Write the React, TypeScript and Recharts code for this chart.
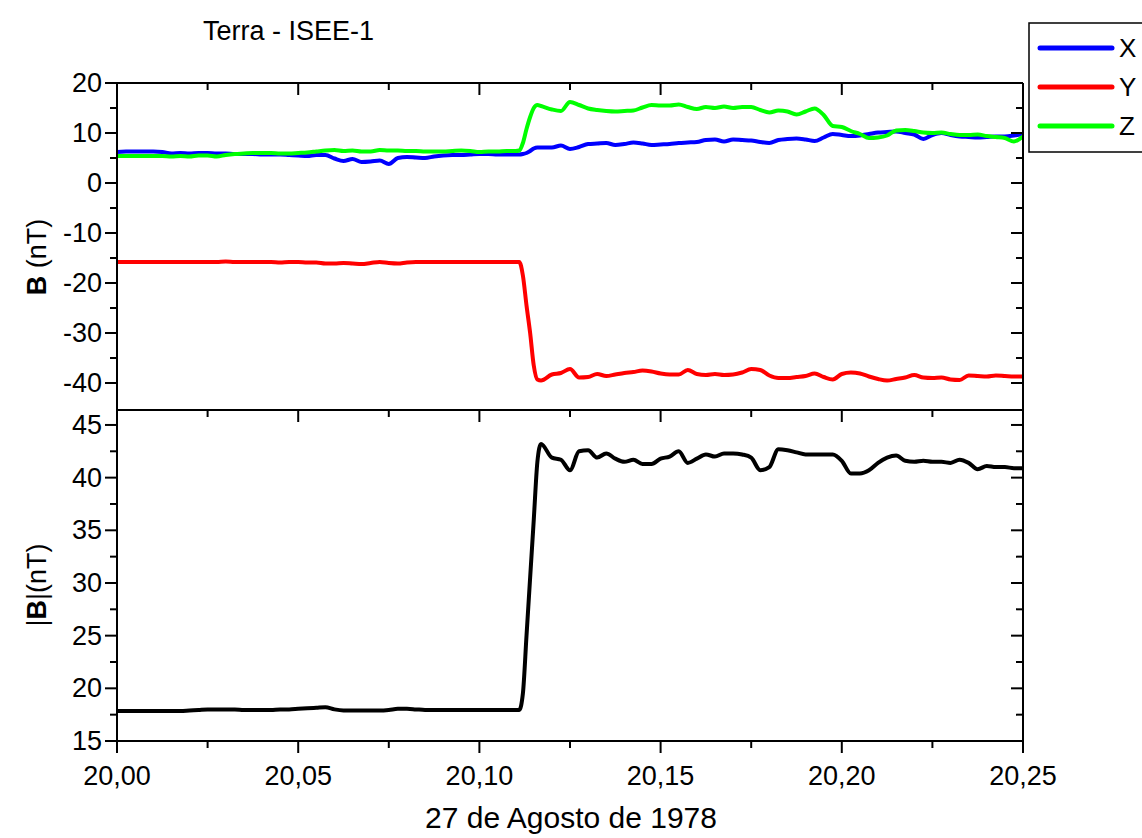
import { LineChart, Line, XAxis, YAxis } from 'recharts'

// time axis (day fraction), 27 Aug 1978
const times = [
    20.0, 20.0025, 20.005, 20.0075, 20.01, 20.0125, 20.015, 20.0175, 20.02, 20.0225,
    20.025, 20.0275, 20.03, 20.0325, 20.035, 20.0375, 20.04, 20.0425, 20.045, 20.0475,
    20.05, 20.0525, 20.055, 20.0575, 20.06, 20.0625, 20.065, 20.0675, 20.07, 20.0725,
    20.075, 20.0775, 20.08, 20.0825, 20.085, 20.0875, 20.09, 20.0925, 20.095, 20.0975,
    20.1, 20.1025, 20.105, 20.1075, 20.11,
    20.111, 20.112, 20.113, 20.114, 20.115, 20.116, 20.117,
    20.12, 20.1225, 20.125, 20.1275, 20.13, 20.1325, 20.135, 20.1375, 20.14, 20.1425,
    20.145, 20.1475, 20.15, 20.1525, 20.155, 20.1575, 20.16, 20.1625, 20.165, 20.1675,
    20.17, 20.1725, 20.175, 20.1775, 20.18, 20.1825, 20.185, 20.1875, 20.19, 20.1925,
    20.195, 20.1975, 20.2, 20.2025, 20.205, 20.2075, 20.21, 20.2125, 20.215, 20.2175,
    20.22, 20.2225, 20.225, 20.2275, 20.23, 20.2325, 20.235, 20.2375, 20.24, 20.2425,
    20.245, 20.2475, 20.25,
]

const bX = [
    6.2, 6.3, 6.3, 6.3, 6.3, 6.2, 5.9, 6.0, 5.9, 6.0,
    6.0, 5.9, 5.9, 5.8, 5.8, 5.8, 5.7, 5.7, 5.7, 5.6,
    5.5, 5.4, 5.6, 5.6, 4.9, 4.4, 4.8, 4.2, 4.3, 4.5,
    3.8, 5.0, 5.2, 5.1, 5.0, 5.3, 5.5, 5.6, 5.6, 5.7,
    5.8, 5.8, 5.7, 5.7, 5.7,
    5.7, 5.8, 6.0, 6.4, 6.9, 7.1, 7.1,
    7.1, 7.5, 6.8, 7.2, 7.8, 7.9, 8.0, 7.6, 7.8, 8.1,
    7.9, 7.6, 7.7, 7.8, 8.0, 8.1, 8.2, 8.6, 8.7, 8.3,
    8.7, 8.6, 8.5, 8.2, 8.0, 8.6, 8.8, 8.9, 8.7, 8.4,
    9.1, 9.8, 9.6, 9.4, 9.5, 9.8, 10.1, 10.2, 10.3, 10.0,
    9.7, 8.8, 9.6, 10.0, 9.6, 9.3, 9.2, 9.1, 9.2, 9.3,
    9.3, 9.5, 9.8,
]

const bY = [
    -15.8, -15.8, -15.8, -15.8, -15.8, -15.8, -15.8, -15.8, -15.8, -15.8,
    -15.8, -15.8, -15.7, -15.8, -15.8, -15.8, -15.8, -15.8, -15.9, -15.8,
    -15.8, -15.9, -15.9, -16.1, -16.1, -16.0, -16.1, -16.2, -16.0, -15.8,
    -16.0, -16.1, -15.9, -15.8, -15.8, -15.8, -15.8, -15.8, -15.8, -15.8,
    -15.8, -15.8, -15.8, -15.8, -15.8,
    -15.8, -18.5, -24.5, -30.0, -36.5, -39.3, -39.5,
    -38.3, -38.0, -37.2, -38.9, -38.8, -38.2, -38.6, -38.3, -38.0, -37.8,
    -37.5, -37.7, -38.1, -38.3, -38.3, -37.4, -38.2, -38.4, -38.2, -38.4,
    -38.3, -37.9, -37.2, -37.4, -38.5, -39.0, -39.0, -38.8, -38.6, -38.1,
    -38.8, -39.3, -38.2, -37.9, -38.1, -38.7, -39.2, -39.5, -39.2, -38.9,
    -38.4, -38.9, -39.0, -38.9, -39.3, -39.4, -38.5, -38.6, -38.7, -38.5,
    -38.6, -38.7, -38.7,
]

const bZ = [
    5.4, 5.4, 5.4, 5.4, 5.4, 5.4, 5.3, 5.4, 5.3, 5.5,
    5.5, 5.3, 5.6, 5.8, 5.9, 6.0, 6.0, 6.0, 5.9, 5.9,
    6.0, 6.1, 6.3, 6.5, 6.6, 6.4, 6.5, 6.3, 6.3, 6.6,
    6.5, 6.5, 6.4, 6.4, 6.3, 6.3, 6.3, 6.4, 6.5, 6.4,
    6.2, 6.3, 6.3, 6.4, 6.4,
    6.5, 8.0, 10.8, 13.2, 15.0, 15.6, 15.4,
    14.7, 14.4, 16.2, 15.6, 14.9, 14.6, 14.4, 14.3, 14.4, 14.5,
    15.1, 15.6, 15.5, 15.5, 15.7, 15.2, 14.8, 15.2, 15.0, 15.3,
    15.0, 15.2, 15.2, 14.6, 14.1, 14.5, 14.3, 13.7, 14.3, 14.9,
    13.6, 11.4, 11.2, 10.4, 9.8, 9.0, 9.1, 9.5, 10.5, 10.6,
    10.4, 10.1, 10.0, 10.1, 9.8, 9.6, 9.6, 9.7, 9.4, 9.2,
    9.0, 8.3, 9.3,
]

const bMag = [
    17.85, 17.85, 17.85, 17.85, 17.85, 17.85, 17.85, 17.85, 17.9, 17.95,
    18.0, 18.0, 18.0, 18.0, 17.95, 17.95, 17.95, 17.95, 18.0, 18.0,
    18.05, 18.1, 18.15, 18.2, 18.0, 17.9, 17.9, 17.9, 17.9, 17.9,
    17.95, 18.05, 18.05, 18.0, 17.95, 17.95, 17.95, 17.95, 17.95, 17.95,
    17.95, 17.95, 17.95, 17.95, 17.95,
    17.95, 19.5, 25.0, 30.5, 36.0, 41.5, 43.2,
    41.9, 41.7, 40.7, 42.5, 42.6, 41.9, 42.3, 41.8, 41.5, 41.7,
    41.3, 41.3, 41.8, 42.0, 42.5, 41.4, 41.8, 42.2, 42.0, 42.3,
    42.3, 42.2, 41.9, 40.7, 41.0, 42.7, 42.6, 42.4, 42.2, 42.2,
    42.2, 42.2, 41.6, 40.4, 40.4, 40.7, 41.4, 41.9, 42.1, 41.6,
    41.5, 41.6, 41.5, 41.5, 41.4, 41.7, 41.4, 40.8, 41.1, 41.0,
    41.0, 40.9, 40.9,
]

const xTicks = [20, 20.025, 20.05, 20.075, 20.1, 20.125, 20.15, 20.175, 20.2, 20.225, 20.25]
const topYTicks = [-40, -35, -30, -25, -20, -15, -10, -5, 0, 5, 10, 15, 20]
const botYTicks = [15, 17.5, 20, 22.5, 25, 27.5, 30, 32.5, 35, 37.5, 40, 42.5, 45]

const seriesNames = ['X', 'Y', 'Z']
const seriesColors = ['#0000ff', '#ff0000', '#00ff00']

const topData = times.map((t, i) => ({ t, x: bX[i], y: bY[i], z: bZ[i] }))
const botData = times.map((t, i) => ({ t, b: bMag[i] }))

// layout (px)
const W = 1142
const H = 838
const L = 117
const R = 1023
const TOP = 83
const MID = 410
const BOT = 741
const AX = 30 // space reserved by the non-label axes
const MAJ = 12
const MIN = 7
const FS = 27
const FONT = '"Liberation Sans", Arial, sans-serif'

const isMult = (v: number, step: number) => {
    const k = v / step
    return Math.abs(k - Math.round(k)) < 1e-6
}
const fmtX = (v: number) => v.toFixed(2).replace('.', ',')

const inwardX = (yEdge: number) => (p: any) => {
    const len = isMult(p.payload.value - 20, 0.05) ? MAJ : MIN
    return <line x1={p.x} x2={p.x} y1={yEdge} y2={yEdge + len} stroke="#000" strokeWidth={2} />
}

const leftY = (step: number) => (p: any) => {
    const v = p.payload.value
    const major = isMult(v, step)
    return (
        <g>
            <line x1={L - (major ? MAJ : MIN)} x2={L} y1={p.y} y2={p.y} stroke="#000" strokeWidth={2} />
            {major && (
                <text x={L - 15} y={p.y} textAnchor="end" dominantBaseline="central" fontSize={FS} fontFamily={FONT} fill="#000">
                    {String(v)}
                </text>
            )}
        </g>
    )
}

const rightY = (step: number) => (p: any) => {
    const major = isMult(p.payload.value, step)
    return <line x1={R - (major ? MAJ : MIN)} x2={R} y1={p.y} y2={p.y} stroke="#000" strokeWidth={2} />
}

const bottomX = (p: any) => {
    const v = p.payload.value
    const major = isMult(v - 20, 0.05)
    return (
        <g>
            <line x1={p.x} x2={p.x} y1={BOT} y2={BOT + (major ? MAJ : MIN)} stroke="#000" strokeWidth={2} />
            {major && (
                <text x={p.x} y={776} textAnchor="middle" dominantBaseline="central" fontSize={FS} fontFamily={FONT} fill="#000">
                    {fmtX(v)}
                </text>
            )}
        </g>
    )
}

const axisLine = { stroke: '#000', strokeWidth: 2 }

export default function App() {
    return (
        <div style={{ position: 'absolute', left: 0, top: 0, width: W, height: H, background: '#fff', fontFamily: FONT }}>
            <div style={{ position: 'absolute', left: 0, top: 0 }}>
                <LineChart width={W} height={H} data={topData} margin={{ top: TOP - AX, right: W - R - AX, bottom: H - MID - AX, left: 0 }}>
                    <XAxis xAxisId="top" orientation="top" dataKey="t" type="number" domain={[20, 20.25]} allowDataOverflow
                        ticks={xTicks} interval={0} height={AX} axisLine={axisLine} tickLine={false} tick={inwardX(TOP)} />
                    <XAxis xAxisId="bot" orientation="bottom" dataKey="t" type="number" domain={[20, 20.25]} allowDataOverflow
                        ticks={xTicks} interval={0} height={AX} axisLine={axisLine} tickLine={false} tick={() => <g />} />
                    <YAxis yAxisId="left" orientation="left" type="number" domain={[-45.4, 20]} allowDataOverflow
                        ticks={topYTicks} interval={0} width={L} axisLine={axisLine} tickLine={false} tick={leftY(10)} />
                    <YAxis yAxisId="right" orientation="right" type="number" domain={[-45.4, 20]} allowDataOverflow
                        ticks={topYTicks} interval={0} width={AX} axisLine={axisLine} tickLine={false} tick={rightY(10)} />
                    <Line xAxisId="top" yAxisId="left" type="monotone" dataKey="x" stroke={seriesColors[0]} strokeWidth={4} dot={false} isAnimationActive={false} />
                    <Line xAxisId="top" yAxisId="left" type="monotone" dataKey="y" stroke={seriesColors[1]} strokeWidth={4} dot={false} isAnimationActive={false} />
                    <Line xAxisId="top" yAxisId="left" type="monotone" dataKey="z" stroke={seriesColors[2]} strokeWidth={4} dot={false} isAnimationActive={false} />
                </LineChart>
            </div>
            <div style={{ position: 'absolute', left: 0, top: 0 }}>
                <LineChart width={W} height={H} data={botData} margin={{ top: MID - AX, right: W - R - AX, bottom: H - BOT - AX, left: 0 }}>
                    <XAxis xAxisId="top" orientation="top" dataKey="t" type="number" domain={[20, 20.25]} allowDataOverflow
                        ticks={xTicks} interval={0} height={AX} axisLine={axisLine} tickLine={false} tick={inwardX(MID)} />
                    <XAxis xAxisId="bot" orientation="bottom" dataKey="t" type="number" domain={[20, 20.25]} allowDataOverflow
                        ticks={xTicks} interval={0} height={AX} axisLine={axisLine} tickLine={false} tick={bottomX} />
                    <YAxis yAxisId="left" orientation="left" type="number" domain={[15, 46.42]} allowDataOverflow
                        ticks={botYTicks} interval={0} width={L} axisLine={axisLine} tickLine={false} tick={leftY(5)} />
                    <YAxis yAxisId="right" orientation="right" type="number" domain={[15, 46.42]} allowDataOverflow
                        ticks={botYTicks} interval={0} width={AX} axisLine={axisLine} tickLine={false} tick={rightY(5)} />
                    <Line xAxisId="bot" yAxisId="left" type="monotone" dataKey="b" stroke="#000" strokeWidth={4} dot={false} isAnimationActive={false} />
                </LineChart>
            </div>
            <svg width={W} height={H} style={{ position: 'absolute', left: 0, top: 0, pointerEvents: 'none' }}>
                <text x={203} y={40} fontSize={27} fontFamily={FONT} fill="#000">Terra - ISEE-1</text>
                <text transform="translate(46,257) rotate(-90)" textAnchor="middle" fontSize={FS} fontFamily={FONT} fill="#000">
                    <tspan fontWeight="bold">B</tspan> (nT)
                </text>
                <text transform="translate(46,585) rotate(-90)" textAnchor="middle" fontSize={FS} fontFamily={FONT} fill="#000">
                    |<tspan fontWeight="bold">B</tspan>|(nT)
                </text>
                <text x={571} y={828} textAnchor="middle" fontSize={30} fontFamily={FONT} fill="#000">27 de Agosto de 1978</text>
                <rect x={1029} y={23} width={140} height={129} fill="#fff" stroke="#000" strokeWidth={1.5} />
                {seriesNames.map((n, i) => (
                    <g key={n}>
                        <line x1={1040} x2={1112} y1={48 + i * 39} y2={48 + i * 39} stroke={seriesColors[i]} strokeWidth={5} strokeLinecap="round" />
                        <text x={1119} y={48 + i * 39} dominantBaseline="central" fontSize={26} fontFamily={FONT} fill="#000">{n}</text>
                    </g>
                ))}
            </svg>
        </div>
    )
}
